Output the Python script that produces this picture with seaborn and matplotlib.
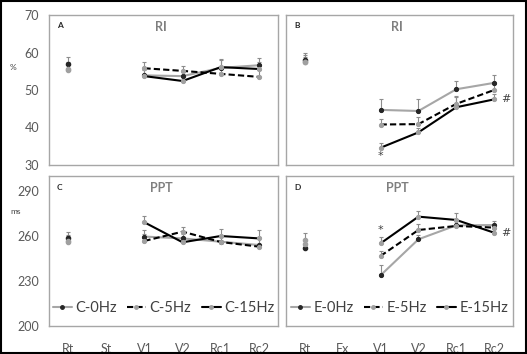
import numpy as np
import pandas as pd
import matplotlib
matplotlib.use('Agg')
import matplotlib.pyplot as plt
import seaborn as sns
from matplotlib.lines import Line2D
from matplotlib.patches import Rectangle

sns.set_style('white')
plt.rcParams['font.family'] = ['Lato', 'DejaVu Sans']

# x categories
ctrl_labels = ['Rt', 'St', 'V1', 'V2', 'Rc1', 'Rc2']
exp_labels = ['Rt', 'Ex', 'V1', 'V2', 'Rc1', 'Rc2']
phases = ['Rt', 'V1', 'V2', 'Rc1', 'Rc2']   # phases with measurements

# RI (%) - control group
ri_c0 = [56.9, 53.9, 53.7, 55.9, 56.6]
ri_c5 = [55.5, 55.8, 55.1, 54.3, 53.5]
ri_c15 = [55.3, 53.7, 52.4, 56.1, 55.6]
ri_c_err = [1.9, 1.6, 1.2, 2.2, 1.9]

# RI (%) - experimental group
ri_e0 = [58.0, 44.7, 44.4, 50.2, 51.9]
ri_e5 = [57.6, 40.8, 40.9, 46.3, 50.0]
ri_e15 = [57.4, 34.6, 38.7, 45.4, 47.5]
ri_e0_err = [2.0, 3.0, 3.2, 2.2, 2.0]
ri_e5_err = [1.8, 1.5, 2.0, 2.0, 1.5]
ri_e15_err = [1.5, 1.4, 1.2, 2.8, 1.5]

# PPT (ms) - control group
ppt_c0 = [258.4, 259.6, 258.4, 256.2, 254.0]
ppt_c5 = [256.0, 256.7, 262.9, 256.0, 252.9]
ppt_c15 = [257.0, 269.1, 255.8, 260.0, 258.4]
ppt_c_err = [4.0, 4.4, 3.0, 4.4, 5.6]

# PPT (ms) - experimental group
ppt_e0 = [251.8, 233.8, 257.8, 267.1, 267.3]
ppt_e5 = [255.0, 246.7, 264.0, 266.7, 265.6]
ppt_e15 = [257.3, 255.1, 272.9, 270.7, 262.2]
ppt_e0_err = [3.0, 6.9, 3.0, 3.0, 2.9]
ppt_e5_err = [3.0, 3.5, 3.8, 3.0, 2.5]
ppt_e15_err = [4.5, 4.2, 4.0, 4.9, 2.5]

GREY_LINE = '#a6a6a6'
DARK_MK = '#262626'
GREY_MK = '#a0a0a0'
styles = [
    dict(color=GREY_LINE, ls='-', mk=DARK_MK),
    dict(color='black', ls=(0, (3, 1.5)), mk=GREY_MK),
    dict(color='black', ls='-', mk=GREY_MK),
]


def draw_panel(ax, labels, series, errs, letter, title, ylim, yticks, marks):
    pos = [labels.index(p) for p in phases]
    for vals, err, st in zip(series, errs, styles):
        df = pd.DataFrame({'x': pos[1:], 'y': vals[1:]})
        sns.lineplot(data=df, x='x', y='y', ax=ax, color=st['color'],
                     linestyle=st['ls'], lw=1.5, marker='o', markersize=3,
                     markerfacecolor=st['mk'], markeredgecolor=st['mk'],
                     zorder=3)
        ax.errorbar(pos, vals, yerr=[np.zeros(len(err)), err], fmt='none',
                    ecolor='#8c8c8c', elinewidth=0.8, capsize=1.5,
                    capthick=0.8, zorder=2)
        # Rt point
        ax.plot(pos[0], vals[0], 'o', ms=3, color=st['mk'], zorder=3)
    ax.set_xlim(-0.5, 5.5)
    ax.set_ylim(*ylim)
    ax.set_yticks(yticks)
    ax.set_xticks(range(6))
    ax.set_xticklabels(labels)
    ax.set_xlabel('')
    ax.set_ylabel('')
    ax.tick_params(length=0, labelsize=9, labelcolor='#595959', pad=7)
    for s in ax.spines.values():
        s.set_color('#a6a6a6')
        s.set_linewidth(1.0)
    ax.text(0.035, 0.95, letter, transform=ax.transAxes, fontsize=6,
            fontweight='bold', color='#262626', va='top')
    ax.text(0.49, 0.92, title, transform=ax.transAxes, fontsize=9,
            fontweight='bold', color='#7f7f7f', ha='center', va='center')
    for (tx, ty, t, fs) in marks:
        ax.text(tx, ty, t, fontsize=fs, color='#404040', ha='center',
                va='center', family=['DejaVu Sans'])


fig = plt.figure(figsize=(5.27, 3.54), dpi=100)
W, H = 527, 354
def box(l, t, r, b):
    return [l / W, 1 - b / H, (r - l) / W, (b - t) / H]

axA = fig.add_axes(box(49, 15, 278, 165))
axB = fig.add_axes(box(286, 15, 513, 165))
axC = fig.add_axes(box(49, 176, 278, 326))
axD = fig.add_axes(box(286, 176, 513, 326))

draw_panel(axA, ctrl_labels, [ri_c0, ri_c5, ri_c15], [ri_c_err] * 3,
           'A', 'RI', (30, 70), [30, 40, 50, 60, 70], [])
draw_panel(axB, exp_labels, [ri_e0, ri_e5, ri_e15],
           [ri_e0_err, ri_e5_err, ri_e15_err], 'B', 'RI', (30, 70),
           [30, 40, 50, 60, 70], [(2, 32.3, '*', 8), (5.3, 47.5, '#', 8)])
draw_panel(axC, ctrl_labels, [ppt_c0, ppt_c5, ppt_c15], [ppt_c_err] * 3,
           'C', 'PPT', (200, 300), [200, 230, 260, 290], [])
draw_panel(axD, exp_labels, [ppt_e0, ppt_e5, ppt_e15],
           [ppt_e0_err, ppt_e5_err, ppt_e15_err], 'D', 'PPT', (200, 300),
           [200, 230, 260, 290], [(2, 264.0, '*', 8), (5.3, 262.0, '#', 8)])

for ax in (axA, axB):
    ax.tick_params(labelbottom=False)
for ax in (axB, axD):
    ax.tick_params(labelleft=False)
for ax in (axC, axD):
    ax.tick_params(axis='x', pad=12)


def legend_handles(names):
    return [Line2D([0], [0], color=st['color'], ls=st['ls'], lw=1.5,
                   marker='o', ms=2.5, mfc=st['mk'], mec=st['mk'], label=n)
            for n, st in zip(names, styles)]

for ax, names in ((axC, ['C-0Hz', 'C-5Hz', 'C-15Hz']),
                  (axD, ['E-0Hz', 'E-5Hz', 'E-15Hz'])):
    leg = ax.legend(handles=legend_handles(names), loc='center',
                    bbox_to_anchor=(0.5, 0.12), ncol=3, frameon=False,
                    fontsize=10.5, handlelength=1.3, handletextpad=0.25,
                    columnspacing=0.7)
    for t in leg.get_texts():
        t.set_color('#404040')

fig.text(10 / W, 1 - 67 / H, '%', fontsize=6, color='#404040', va='center')
fig.text(10 / W, 1 - 211 / H, 'ms', fontsize=6, color='#404040', va='center')

fig.patches.append(Rectangle((0.002, 0.003), 0.996, 0.994, transform=fig.transFigure,
                             fill=False, edgecolor='black', lw=1.5))

fig.savefig('out.png', dpi=100)
